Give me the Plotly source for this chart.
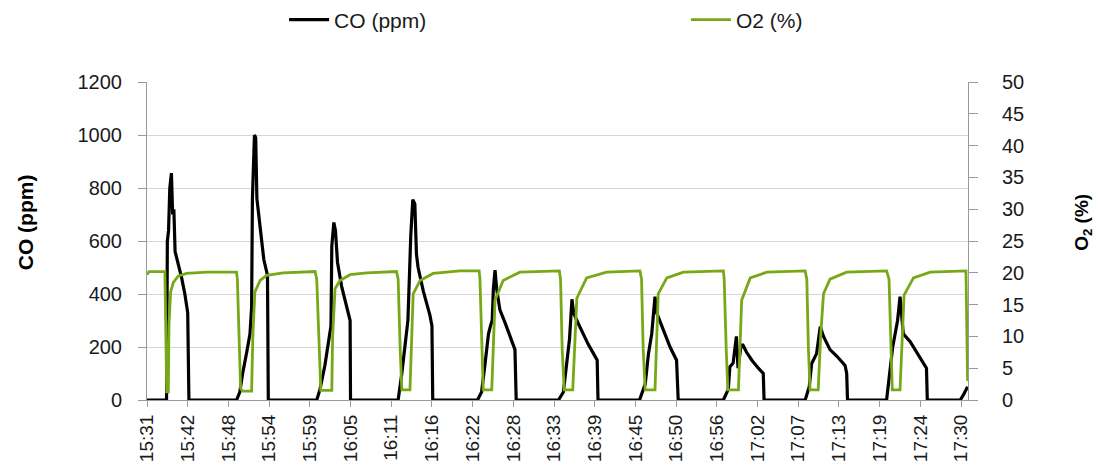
import plotly.graph_objects as go

tick_labels = ["15:31", "15:42", "15:48", "15:54", "15:59", "16:05", "16:11", "16:16",
               "16:22", "16:28", "16:33", "16:39", "16:45", "16:50", "16:56", "17:02",
               "17:07", "17:13", "17:19", "17:24", "17:30"]

# time position (in label-interval units) and CO (ppm)
co_t = [0, 0.48, 0.50, 0.53, 0.56, 0.60, 0.63, 0.66, 0.69, 0.85, 0.93, 1.00, 1.03,
        2.20, 2.28, 2.35, 2.45, 2.53, 2.57, 2.59, 2.64, 2.67, 2.70, 2.78, 2.87, 2.96, 2.98,
        4.17, 4.25, 4.37, 4.48, 4.52, 4.54, 4.59, 4.63, 4.68, 4.78, 4.91, 4.99, 5.00,
        6.17, 6.26, 6.34, 6.41, 6.45, 6.48, 6.53, 6.58, 6.62, 6.66, 6.79, 6.95, 7.00, 7.02,
        8.12, 8.22, 8.30, 8.39, 8.44, 8.48, 8.51, 8.55, 8.59, 8.67, 8.80, 8.92, 9.04, 9.07,
        10.11, 10.23, 10.31, 10.38, 10.44, 10.48, 10.56, 10.68, 10.84, 10.97, 11.06, 11.08,
        12.10, 12.24, 12.32, 12.40, 12.48, 12.52, 12.69, 12.85, 13.01, 13.05,
        14.16, 14.28, 14.32, 14.40, 14.48, 14.52, 14.59, 14.63, 14.73, 14.86, 15.02, 15.14, 15.16,
        16.17, 16.27, 16.33, 16.45, 16.54, 16.62, 16.78, 16.95, 17.15, 17.19, 17.21,
        18.17, 18.25, 18.32, 18.38, 18.44, 18.50, 18.54, 18.58, 18.75, 18.91, 19.08, 19.15, 19.17,
        19.98, 20.06, 20.16]
co_ppm = [0, 0, 600, 640, 800, 856, 700, 720, 560, 462, 400, 330, 0,
          0, 30, 100, 180, 250, 350, 760, 1000, 990, 760, 640, 530, 470, 0,
          0, 40, 130, 230, 280, 580, 670, 640, 520, 430, 350, 300, 0,
          0, 100, 200, 300, 480, 620, 756, 740, 550, 500, 410, 320, 280, 0,
          0, 30, 130, 250, 280, 300, 420, 490, 420, 340, 290, 240, 190, 0,
          0, 30, 150, 230, 380, 330, 300, 260, 210, 175, 150, 0,
          0, 60, 175, 250, 390, 330, 265, 200, 150, 0,
          0, 40, 125, 140, 240, 120, 200, 210, 180, 150, 120, 100, 0,
          0, 50, 138, 175, 277, 240, 190, 165, 130, 100, 0,
          0, 110, 200, 250, 300, 390, 300, 250, 220, 180, 140, 120, 0,
          0, 20, 50]

# time position and O2 (%)
o2_t = [0, 0.05, 0.44, 0.467, 0.484, 0.524, 0.54, 0.58, 0.647, 0.77, 0.975, 1.47,
        2.20, 2.22, 2.27, 2.30, 2.35, 2.57, 2.60, 2.65, 2.78, 2.94, 3.35,
        4.13, 4.17, 4.23, 4.27, 4.54, 4.56, 4.62, 4.74, 4.99, 5.40,
        6.13, 6.17, 6.22, 6.26, 6.46, 6.50, 6.54, 6.71, 7.03, 7.69,
        8.16, 8.18, 8.22, 8.26, 8.47, 8.51, 8.55, 8.75, 9.16,
        10.13, 10.16, 10.20, 10.25, 10.46, 10.51, 10.56, 10.80, 11.29,
        12.11, 12.15, 12.19, 12.24, 12.48, 12.52, 12.56, 12.77, 13.18,
        14.16, 14.18, 14.23, 14.27, 14.53, 14.57, 14.61, 14.82, 15.23,
        16.17, 16.21, 16.25, 16.29, 16.49, 16.55, 16.62, 16.78, 17.19,
        18.17, 18.23, 18.27, 18.31, 18.50, 18.55, 18.60, 18.83, 19.24,
        20.12, 20.16]
o2_pct = [19.7, 20.2, 20.2, 10, 1.3, 1.3, 12, 17, 18.5, 19.5, 19.9, 20.1,
          20.1, 19, 8, 1.8, 1.4, 1.4, 10, 17, 18.8, 19.6, 20.0,
          20.2, 19, 8, 1.5, 1.5, 10, 17.5, 18.8, 19.7, 20.0,
          20.2, 19, 8, 1.6, 1.6, 10, 16.7, 18.8, 19.9, 20.3,
          20.3, 19, 8, 1.6, 1.6, 10, 15.7, 18.8, 20.1,
          20.3, 19, 8, 1.6, 1.6, 10, 16, 19.2, 20.1,
          20.3, 19, 8, 1.6, 1.6, 10, 16.7, 19.2, 20.1,
          20.3, 19, 8, 1.6, 1.6, 10, 15.7, 19.2, 20.1,
          20.3, 19, 8, 1.6, 1.6, 10, 16.7, 19.0, 20.1,
          20.3, 19, 8, 1.6, 1.6, 10, 16.5, 19.2, 20.1,
          20.3, 3.0]

FONT = "Liberation Sans, Arial, sans-serif"
TXT = "#1a1a1a"

fig = go.Figure()
fig.add_trace(go.Scatter(x=co_t, y=co_ppm, mode="lines", name="CO (ppm)",
                         line=dict(color="#000000", width=3.2), legend="legend"))
fig.add_trace(go.Scatter(x=o2_t, y=o2_pct, mode="lines", name="O2 (%)", yaxis="y2",
                         line=dict(color="#77A817", width=2.8), legend="legend2"))

leg_common = dict(orientation="h", xref="container", yref="container",
                  xanchor="left", yanchor="middle", y=0.958,
                  font=dict(family=FONT, size=21, color=TXT),
                  bgcolor="rgba(0,0,0,0)", itemwidth=40, tracegroupgap=0)

fig.update_layout(
    width=1101, height=476,
    margin=dict(l=147, r=133, t=82, b=76, autoexpand=False),
    paper_bgcolor="white", plot_bgcolor="white",
    font=dict(family=FONT, size=19, color=TXT),
    showlegend=True,
    legend=dict(x=0.258, **leg_common),
    legend2=dict(x=0.623, **leg_common),
    xaxis=dict(range=[0, 20.17], tickmode="array",
               tickvals=list(range(len(tick_labels))), ticktext=tick_labels,
               tickangle=-90, showgrid=False, zeroline=False,
               showline=True, linecolor="#9a9a9a", linewidth=1,
               ticks="outside", ticklen=6, tickcolor="#9a9a9a",
               tickfont=dict(family=FONT, size=19, color=TXT)),
    yaxis=dict(range=[0, 1200], dtick=200, showgrid=True, gridcolor="#d6d6d6",
               gridwidth=1, zeroline=False, showline=True, linecolor="#9a9a9a",
               ticks="outside", ticklen=8, tickcolor="#9a9a9a",
               ticklabelstandoff=12,
               tickfont=dict(family=FONT, size=20, color=TXT)),
    yaxis2=dict(range=[0, 50], dtick=5, overlaying="y", side="right",
                showgrid=False, zeroline=False, showline=True, linecolor="#9a9a9a",
                ticks="outside", ticklen=9, tickcolor="#9a9a9a",
                ticklabelstandoff=20,
                tickfont=dict(family=FONT, size=20, color=TXT)),
    annotations=[
        dict(text="<b>CO (ppm)</b>", xref="paper", yref="paper",
             x=-0.147, y=0.56, xanchor="center", yanchor="middle",
             textangle=-90, showarrow=False,
             font=dict(family=FONT, size=21, color="#000")),
        dict(text="<b>O<sub>2</sub> (%)</b>", xref="paper", yref="paper",
             x=1.14, y=0.56, xanchor="center", yanchor="middle",
             textangle=-90, showarrow=False,
             font=dict(family=FONT, size=19, color="#000")),
    ],
)

fig.write_html("out.html")
